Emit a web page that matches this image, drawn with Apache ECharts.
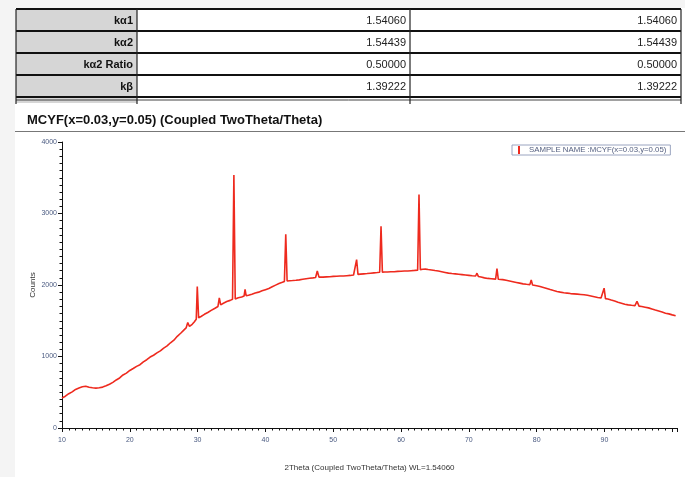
<!DOCTYPE html>
<html>
<head>
<meta charset="utf-8">
<script src="https://cdn.jsdelivr.net/npm/echarts@6/dist/echarts.min.js"></script>
<style>
html,body{margin:0;padding:0;background:#fff;}
#c{width:685px;height:477px;}
</style>
</head>
<body>
<div id="c"></div>
<script>
// ---- Data ----
var tableRowLabels = ['kα1', 'kα2', 'kα2 Ratio', 'kβ'];
var tableCol1 = ['1.54060', '1.54439', '0.50000', '1.39222'];
var tableCol2 = ['1.54060', '1.54439', '0.50000', '1.39222'];

var xTicks = [10, 20, 30, 40, 50, 60, 70, 80, 90];
var yTicks = [0, 1000, 2000, 3000, 4000];

var twoTheta = [
  10,10.5,11,11.5,12,12.5,13,13.5,14,14.5,15,15.5,16,16.5,17,17.5,18,18.5,19,19.5,
  20,20.5,21,21.5,22,22.5,23,23.5,24,24.5,25,25.5,26,26.5,27,27.5,28,28.3,28.55,28.8,
  29.2,29.5,29.8,29.95,30.15,30.5,31,31.5,32,32.5,33,33.2,33.4,33.8,34.3,34.8,35.15,35.35,35.55,36,
  36.5,36.85,37.0,37.15,37.5,38,38.5,39,39.5,40,40.5,41,41.5,42,42.5,42.8,43.0,43.2,43.6,44,
  44.5,45,45.5,46,46.5,47,47.4,47.65,47.9,48.5,49,49.5,50,50.5,51,51.5,52,52.5,53,53.25,
  53.45,53.65,54,54.5,55,55.5,56,56.5,56.85,57.05,57.25,57.6,58,58.5,59,59.5,60,60.5,61,61.5,
  62,62.45,62.65,62.85,63.2,63.6,64,64.5,65,65.5,66,66.5,67,67.5,68,68.5,69,69.5,70,70.5,
  71.0,71.2,71.4,71.8,72.3,72.8,73.3,73.95,74.15,74.35,75,75.5,76,76.5,77,77.5,78,78.5,79.0,79.2,
  79.4,80,80.5,81,81.5,82,82.5,83,83.5,84,84.5,85,85.5,86,86.5,87,87.5,88,88.5,89,
  89.5,89.75,89.95,90.15,90.5,91,91.5,92,92.5,93,93.5,94,94.5,94.8,95.1,95.5,96,96.5,97,97.5,
  98,98.5,99,99.5,100,100.5
];
var counts = [
  420,445,480,505,540,560,578,585,570,562,558,562,572,590,612,638,672,700,742,768,
  805,832,862,885,925,955,992,1018,1050,1078,1118,1148,1192,1228,1282,1325,1372,1400,1475,1420,
  1450,1482,1520,1980,1540,1560,1590,1615,1645,1672,1700,1820,1722,1745,1768,1785,1800,3540,1805,1822,
  1832,1845,1940,1850,1858,1872,1888,1900,1918,1935,1952,1975,1998,2020,2038,2050,2710,2055,2060,2062,
  2066,2072,2080,2088,2094,2100,2105,2195,2110,2110,2114,2116,2120,2122,2125,2126,2130,2134,2140,2145,
  2355,2148,2152,2156,2160,2165,2170,2174,2178,2820,2180,2182,2182,2186,2186,2190,2192,2195,2196,2200,
  2204,2208,3265,2215,2220,2222,2216,2210,2202,2195,2186,2176,2166,2160,2155,2150,2145,2140,2135,2130,
  2126,2165,2120,2112,2100,2092,2088,2082,2230,2080,2075,2066,2056,2046,2036,2026,2016,2010,2005,2070,
  2000,1990,1980,1966,1952,1936,1922,1910,1900,1892,1886,1880,1876,1872,1868,1864,1856,1846,1836,1826,
  1818,1815,1955,1810,1805,1790,1776,1760,1746,1732,1722,1716,1712,1770,1705,1700,1690,1680,1665,1650,
  1636,1622,1606,1596,1582,1570
];

var seriesData = twoTheta.map(function (t, i) { return [t, counts[i]]; });

// ---- Table graphics ----
var tLeft = 16, tC1 = 137, tC2 = 410, tRight = 681;
var rowTops = [9, 31, 53, 75];
var rowH = 22;
var g = [];
g.push({type:'rect', shape:{x:0,y:0,width:685,height:8}, style:{fill:'#f4f4f4'}, silent:true});
g.push({type:'rect', shape:{x:0,y:0,width:15,height:477}, style:{fill:'#f4f4f4'}, silent:true});
for (var r = 0; r < rowTops.length; r++) {
  var y0 = rowTops[r];
  g.push({type:'rect', shape:{x:tLeft,y:y0,width:tC1-tLeft,height:rowH}, style:{fill:'#d6d6d6'}, silent:true});
  g.push({type:'text', x:tC1-4, y:y0+rowH/2+1, style:{text:tableRowLabels[r], fill:'#111', font:'bold 11px "Liberation Sans", Arial', align:'right', verticalAlign:'middle'}, silent:true});
  g.push({type:'text', x:tC2-4, y:y0+rowH/2+1, style:{text:tableCol1[r], fill:'#222', font:'11px "Liberation Sans", Arial', align:'right', verticalAlign:'middle'}, silent:true});
  g.push({type:'text', x:tRight-4, y:y0+rowH/2+1, style:{text:tableCol2[r], fill:'#222', font:'11px "Liberation Sans", Arial', align:'right', verticalAlign:'middle'}, silent:true});
}
g.push({type:'rect', shape:{x:tLeft,y:98,width:tC1-tLeft,height:5}, style:{fill:'#d6d6d6'}, silent:true});
[9, 31, 53, 75, 97].forEach(function (yy) {
  g.push({type:'line', shape:{x1:tLeft,y1:yy,x2:tRight,y2:yy}, style:{stroke:'#111', lineWidth:2}, silent:true});
});
g.push({type:'line', shape:{x1:tLeft,y1:100,x2:tRight,y2:100}, style:{stroke:'#444', lineWidth:1}, silent:true});
[tLeft, tC1, tC2, tRight].forEach(function (xx) {
  g.push({type:'line', shape:{x1:xx,y1:9,x2:xx,y2:104}, style:{stroke:'#222', lineWidth:1.2}, silent:true});
});
g.push({type:'line', shape:{x1:15,y1:131.5,x2:685,y2:131.5}, style:{stroke:'#777', lineWidth:1}, silent:true});

var chart = echarts.init(document.getElementById('c'));
chart.setOption({
  animation: false,
  backgroundColor: '#fff',
  graphic: g,
  title: {
    text: 'MCYF(x=0.03,y=0.05) (Coupled TwoTheta/Theta)',
    left: 22, top: 109,
    textStyle: {fontFamily:'"Liberation Sans", Arial', fontSize: 13, fontWeight:'bold', color:'#111'}
  },
  legend: {
    data: ['SAMPLE NAME :MCYF(x=0.03,y=0.05)'],
    left: 512, top: 145,
    icon: 'rect', itemWidth: 2, itemHeight: 8, itemGap: 4,
    padding: [1, 4, 1, 6],
    borderColor: '#9aa4c0', borderWidth: 1,
    textStyle: {fontSize: 7.8, color: '#556080', fontFamily:'"Liberation Sans", Arial', padding: [0, 0, 0, 4]}
  },
  grid: {left: 62, right: 8, top: 142, bottom: 42},
  xAxis: {
    type: 'value', min: 10, max: 100.7, interval: 10,
    name: '2Theta (Coupled TwoTheta/Theta) WL=1.54060',
    nameLocation: 'middle', nameGap: 36,
    nameTextStyle: {fontSize: 8, color: '#333', fontFamily:'"Liberation Sans", Arial'},
    axisLine: {lineStyle: {color: '#111', width: 1}},
    axisTick: {show: true, length: 4, inside: false, lineStyle: {color: '#111'}},
    minorTick: {show: true, splitNumber: 10, length: 2.5, lineStyle: {color: '#111'}},
    axisLabel: {fontSize: 7, color: '#4a5a80', margin: 9, showMaxLabel: false,
      formatter: function (v) { return xTicks.indexOf(v) >= 0 ? String(v) : ''; }},
    splitLine: {show: false}
  },
  yAxis: {
    type: 'value', min: 0, max: 4000, interval: 1000,
    name: 'Counts', nameLocation: 'middle', nameGap: 25, nameRotate: 90,
    nameMoveOverlap: false,
    nameTextStyle: {fontSize: 8, color: '#333', fontFamily:'"Liberation Sans", Arial'},
    axisLine: {show: true, lineStyle: {color: '#111', width: 1}},
    axisTick: {show: true, length: 4, lineStyle: {color: '#111'}},
    minorTick: {show: true, splitNumber: 10, length: 2.5, lineStyle: {color: '#111'}},
    axisLabel: {fontSize: 7, color: '#4a5a80', margin: 5,
      formatter: function (v) { return yTicks.indexOf(v) >= 0 ? String(v) : ''; }},
    splitLine: {show: false}
  },
  series: [{
    name: 'SAMPLE NAME :MCYF(x=0.03,y=0.05)',
    type: 'line',
    data: seriesData,
    showSymbol: false,
    symbol: 'none',
    itemStyle: {color: '#ee2a1e'},
    lineStyle: {color: '#ee2a1e', width: 1.6}
  }]
});
</script>
</body>
</html>
